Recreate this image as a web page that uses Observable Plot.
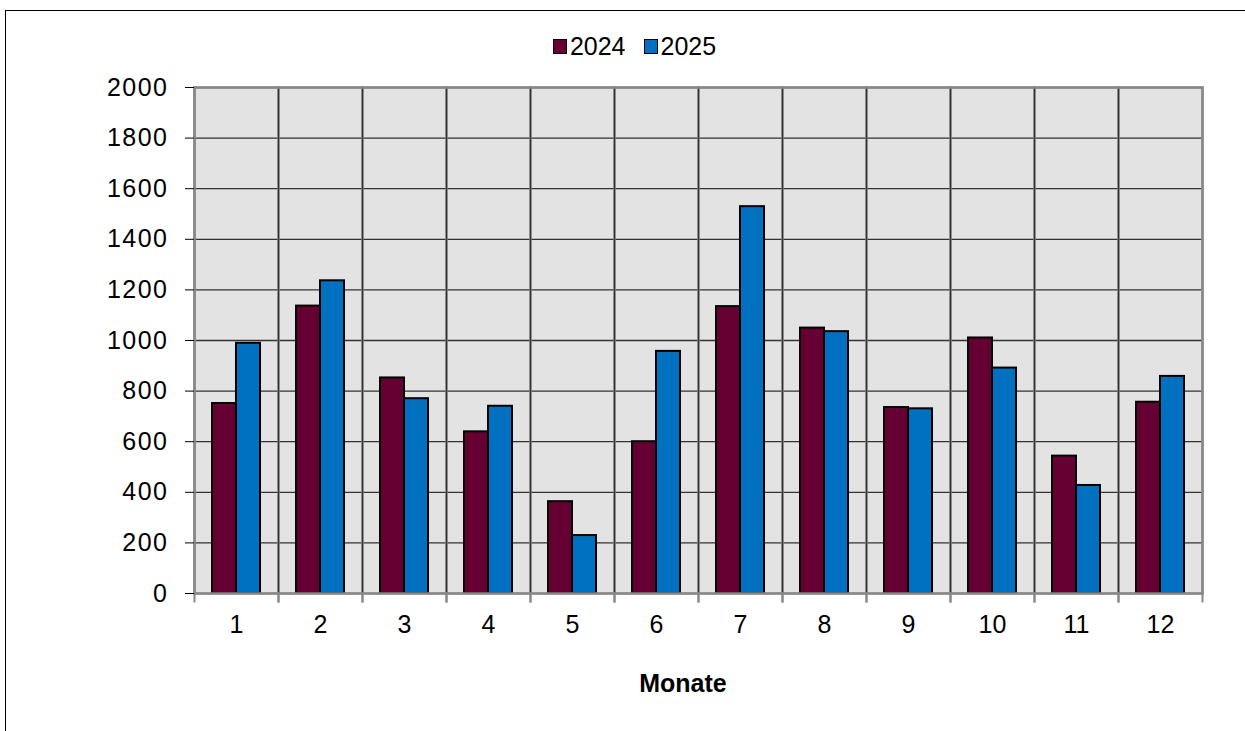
<!DOCTYPE html>
<html>
<head>
<meta charset="utf-8">
<script src="https://cdn.jsdelivr.net/npm/d3@7"></script>
<script src="https://cdn.jsdelivr.net/npm/@observablehq/plot@0.6"></script>
<style>
  html, body { margin: 0; padding: 0; background: #fff; overflow: hidden; }
  body { width: 1245px; height: 731px; position: relative; font-family: "Liberation Sans", Arial, sans-serif; }
  #border { position: absolute; left: 5px; top: 10px; width: 1400px; height: 900px; border: 1.5px solid #000; box-sizing: border-box; }
  #legend { position: absolute; top: 31px; left: 0; width: 1245px; display: flex; justify-content: center; font-size: 25px; line-height: 30px; color: #000; padding-left: 24px; box-sizing: border-box; }
  .item { display: flex; align-items: center; margin: 0 9px; }
  .sw { width: 12px; height: 13px; border: 1px solid #000; margin-right: 3px; }
  #chart { position: absolute; left: 0; top: 70px; }
  #xlabel { position: absolute; top: 668px; left: 583px; width: 200px; text-align: center; font-weight: bold; font-size: 25px; line-height: 30px; }
  #chart svg g[aria-label="y-axis tick label"] text { letter-spacing: 1.5px; }
</style>
</head>
<body>
<div id="border"></div>
<div id="legend"></div>
<div id="chart"></div>
<div id="xlabel">Monate</div>
<script>
const months = ["1","2","3","4","5","6","7","8","9","10","11","12"];
const years = ["2024","2025"];
const values2024 = [751, 1136, 852, 639, 363, 600, 1134, 1049, 735, 1010, 543, 756];
const values2025 = [989, 1236, 770, 740, 229, 957, 1529, 1035, 730, 891, 427, 858];
const yTicks = [0, 200, 400, 600, 800, 1000, 1200, 1400, 1600, 1800, 2000];
const colors = ["#660033", "#0070C0"];

const data = months.flatMap((m, i) => [
  {month: m, year: years[0], value: values2024[i]},
  {month: m, year: years[1], value: values2025[i]}
]);

const legend = document.getElementById("legend");
years.forEach((y, i) => {
  const it = document.createElement("div");
  it.className = "item";
  it.innerHTML = `<span class="sw" style="background:${colors[i]}"></span><span>${y}</span>`;
  legend.appendChild(it);
});

const chart = Plot.plot({
  width: 1245,
  height: 661,
  marginLeft: 191,
  marginRight: 40,
  marginTop: 17,
  marginBottom: 138,
  style: {fontFamily: "'Liberation Sans', Arial, sans-serif", fontSize: "25px", color: "#000", background: "transparent"},
  fx: {domain: months, padding: 0, label: null},
  x: {domain: years, paddingInner: 0, paddingOuter: 0.75, axis: null},
  y: {domain: [0, 2000], label: null},
  color: {domain: years, range: colors},
  marks: [
    Plot.frame({fill: "#e3e3e3", stroke: null}),
    Plot.gridY(yTicks, {stroke: "#333", strokeOpacity: 1, strokeWidth: 1.3}),
    Plot.frame({anchor: "right", stroke: "#888", strokeWidth: 2, insetBottom: -8}),
    Plot.frame({anchor: "left", stroke: "#888", strokeWidth: 2, insetBottom: -8}),
    Plot.frame({anchor: "left", stroke: "#333", strokeWidth: 1.3}),
    Plot.barY(data, {fx: "month", x: "year", y: "value", fill: "year", stroke: "#000", strokeWidth: 2}),
    Plot.frame({facet: "super", stroke: "#888", strokeWidth: 2.5}),
    Plot.axisY(yTicks, {anchor: "left", tickSize: 9, tickPadding: 17, stroke: "#000", fontSize: 25, tickFormat: d => String(d), label: null}),
    Plot.axisFx({anchor: "bottom", tickSize: 0, tickPadding: 22, fontSize: 25, label: null})
  ]
});
document.getElementById("chart").appendChild(chart);
</script>
</body>
</html>
